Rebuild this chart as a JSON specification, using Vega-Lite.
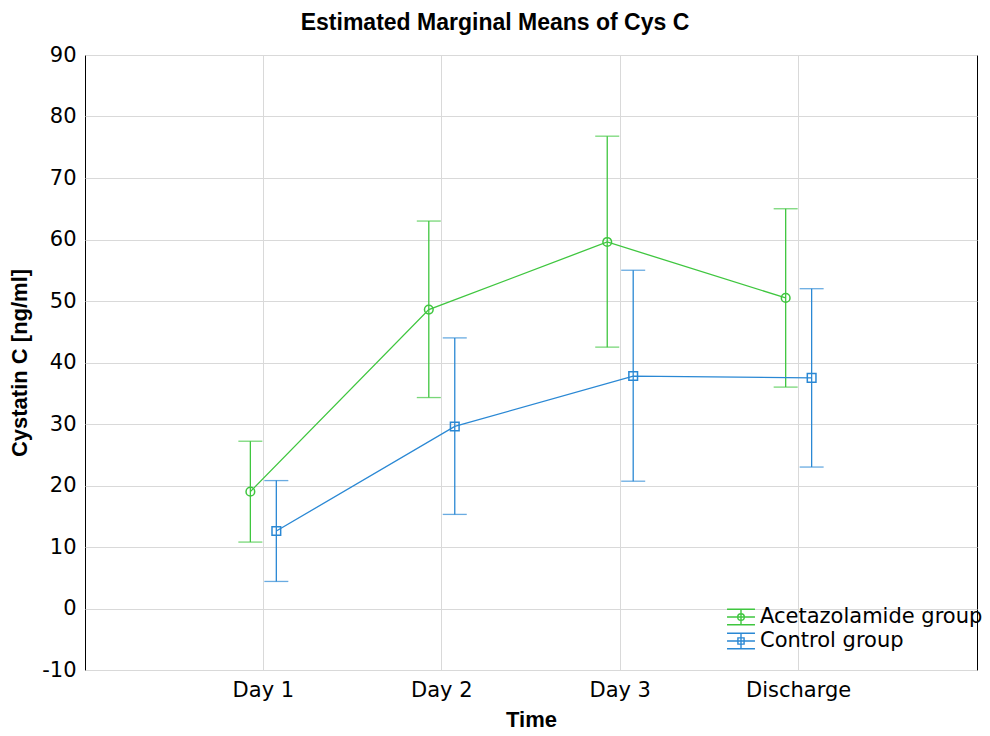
{
  "$schema": "https://vega.github.io/schema/vega-lite/v6.json",
  "width": 892,
  "height": 615,
  "autosize": {"type": "none"},
  "padding": {"left": 85, "top": 55, "right": 13, "bottom": 66},
  "background": "white",
  "title": {
    "text": "Estimated Marginal Means of Cys C",
    "font": "Liberation Sans",
    "fontSize": 23,
    "fontWeight": "bold",
    "color": "black",
    "anchor": "middle",
    "dx": -36,
    "offset": 9
  },
  "config": {
    "view": {"stroke": "black", "strokeWidth": 1},
    "axis": {
      "labelFont": "DejaVu Sans",
      "titleFont": "Liberation Sans",
      "labelColor": "black",
      "titleColor": "black",
      "gridColor": "#d9d9d9",
      "gridWidth": 1,
      "domain": false,
      "ticks": false
    }
  },
  "data": {
    "values": [
      {"time": "Day 1", "group": "Acetazolamide group", "mean": 19.0, "lo": 10.8, "hi": 27.2},
      {"time": "Day 2", "group": "Acetazolamide group", "mean": 48.6, "lo": 34.3, "hi": 63.0},
      {"time": "Day 3", "group": "Acetazolamide group", "mean": 59.6, "lo": 42.5, "hi": 76.8},
      {"time": "Discharge", "group": "Acetazolamide group", "mean": 50.5, "lo": 36.0, "hi": 65.0},
      {"time": "Day 1", "group": "Control group", "mean": 12.6, "lo": 4.4, "hi": 20.8},
      {"time": "Day 2", "group": "Control group", "mean": 29.6, "lo": 15.3, "hi": 44.0},
      {"time": "Day 3", "group": "Control group", "mean": 37.8, "lo": 20.7, "hi": 55.0},
      {"time": "Discharge", "group": "Control group", "mean": 37.5, "lo": 23.0, "hi": 52.0}
    ]
  },
  "encoding": {
    "x": {
      "field": "time",
      "type": "nominal",
      "sort": ["Day 1", "Day 2", "Day 3", "Discharge"],
      "scale": {"type": "band", "paddingInner": 0.709, "paddingOuter": 0.854},
      "axis": {
        "title": "Time",
        "grid": true,
        "bandPosition": 0.5,
        "labelAngle": 0,
        "labelFontSize": 21,
        "labelPadding": 9,
        "titleFontSize": 22,
        "titleFontWeight": "bold",
        "titlePadding": 9
      }
    },
    "xOffset": {
      "field": "group",
      "type": "nominal",
      "sort": ["Acetazolamide group", "Control group"],
      "scale": {"paddingInner": 0, "paddingOuter": 0}
    },
    "color": {
      "field": "group",
      "type": "nominal",
      "scale": {"domain": ["Acetazolamide group", "Control group"], "range": ["#3fc63f", "#2a88d4"]},
      "legend": null
    }
  },
  "layer": [
    {
      "mark": {"type": "rule", "strokeWidth": 1.3},
      "encoding": {
        "y": {
          "field": "lo",
          "type": "quantitative",
          "scale": {"domain": [-10, 90], "nice": false, "zero": false},
          "axis": {
            "values": [-10, 0, 10, 20, 30, 40, 50, 60, 70, 80, 90],
            "labelExpr": "'' + datum.value",
            "title": "Cystatin C [ng/ml]",
            "grid": true,
            "labelFontSize": 21,
            "labelPadding": 9,
            "titleFontSize": 22,
            "titleFontWeight": "bold",
            "titlePadding": 10
          }
        },
        "y2": {"field": "hi"}
      }
    },
    {
      "mark": {"type": "tick", "orient": "horizontal", "size": 24, "thickness": 1.3},
      "encoding": {"y": {"field": "lo", "type": "quantitative"}}
    },
    {
      "mark": {"type": "tick", "orient": "horizontal", "size": 24, "thickness": 1.3},
      "encoding": {"y": {"field": "hi", "type": "quantitative"}}
    },
    {
      "mark": {"type": "line", "strokeWidth": 1.3},
      "encoding": {"y": {"field": "mean", "type": "quantitative"}}
    },
    {
      "mark": {"type": "point", "filled": false, "size": 75, "strokeWidth": 1.5, "opacity": 1},
      "encoding": {
        "y": {"field": "mean", "type": "quantitative"},
        "shape": {
          "field": "group",
          "type": "nominal",
          "scale": {"domain": ["Acetazolamide group", "Control group"], "range": ["circle", "square"]},
          "legend": null
        }
      }
    },
    {
      "mark": {"type": "point", "filled": false, "opacity": 0, "size": 10},
      "encoding": {
        "y": {"field": "mean", "type": "quantitative"},
        "shape": {
          "field": "group",
          "type": "nominal",
          "scale": {
            "domain": ["Acetazolamide group", "Control group"],
            "range": [
              "M-1.27,-0.7H1.27M-1.27,0H1.27M-1.27,0.7H1.27M0,-0.7V0.7M0.3,0A0.3,0.3 0 1,1 -0.3,0A0.3,0.3 0 1,1 0.3,0Z",
              "M-1.27,-0.7H1.27M-1.27,0H1.27M-1.27,0.7H1.27M0,-0.7V0.7M-0.28,-0.28H0.28V0.28H-0.28Z"
            ]
          },
          "legend": {
            "orient": "none",
            "legendX": 644,
            "legendY": 550,
            "title": null,
            "symbolSize": 484,
            "symbolOpacity": 1,
            "symbolStrokeWidth": 1.4,
            "symbolFillColor": "transparent",
            "labelFont": "DejaVu Sans",
            "labelFontSize": 21,
            "labelColor": "black",
            "labelOffset": 7,
            "labelLimit": 0,
            "rowPadding": 1,
            "padding": 0
          }
        },
        "color": {
          "field": "group",
          "type": "nominal",
          "scale": {"domain": ["Acetazolamide group", "Control group"], "range": ["#3fc63f", "#2a88d4"]},
          "legend": {
            "orient": "none",
            "legendX": 644,
            "legendY": 550,
            "title": null,
            "symbolSize": 484,
            "symbolOpacity": 1,
            "symbolStrokeWidth": 1.4,
            "symbolFillColor": "transparent",
            "labelFont": "DejaVu Sans",
            "labelFontSize": 21,
            "labelColor": "black",
            "labelOffset": 7,
            "labelLimit": 0,
            "rowPadding": 1,
            "padding": 0
          }
        }
      }
    }
  ],
  "resolve": {"scale": {"shape": "independent", "color": "independent"}}
}
